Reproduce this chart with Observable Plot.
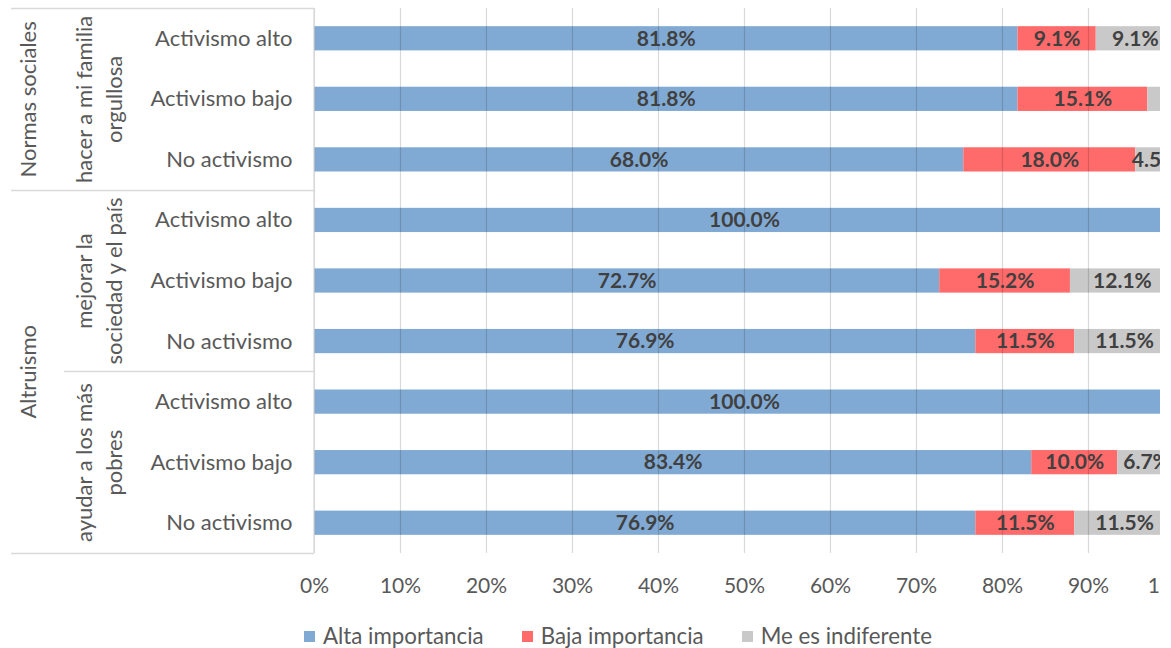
<!DOCTYPE html>
<html>
<head>
<meta charset="utf-8">
<script src="https://cdn.jsdelivr.net/npm/d3@7"></script>
<script src="https://cdn.jsdelivr.net/npm/@observablehq/plot@0.6"></script>
<style>
  html, body { margin: 0; padding: 0; background: #fff; }
  body { font-family: Lato, "Open Sans", sans-serif; }
  #wrap { position: relative; width: 1160px; height: 648px; overflow: hidden; }
  #chart svg { display: block; max-width: none !important; }
  #legend { position: absolute; left: 304px; top: 624px; display: flex; align-items: center; gap: 38px;
            font-size: 22.3px; color: #595959; line-height: 24px; white-space: nowrap; }
  .item { display: flex; align-items: center; gap: 8px; }
  .sw { width: 11px; height: 11px; display: inline-block; }
</style>
</head>
<body>
<div id="wrap">
  <div id="chart"></div>
  <div id="legend"></div>
</div>
<script>
// ---------- data ----------
const groups = ["Normas sociales", "Altruismo"];
const groupRows = [[0, 2], [3, 8]];               // first and last row of each group
const subgroups = ["hacer a mi familia\norgullosa", "mejorar la\nsociedad y el país", "ayudar a los más\npobres"];
const levels = ["Activismo alto", "Activismo bajo", "No activismo"];
const series = ["Alta importancia", "Baja importancia", "Me es indiferente"];
const seriesColors = ["#80AAD3", "#FF6A6A", "#C9C9C9"];

// bar lengths (%) per row, top to bottom
const alta  = [81.8, 81.8, 75.5, 100.0, 72.7, 76.9, 100.0, 83.4, 76.9];
const baja  = [ 9.1, 15.1, 20.0,   0.0, 15.2, 11.5,   0.0, 10.0, 11.5];
const indif = [ 9.1,  3.1,  4.5,   0.0, 12.1, 11.6,   0.0,  6.7, 11.6];
// data labels as printed on the chart
const altaLabels  = ["81.8%", "81.8%", "68.0%", "100.0%", "72.7%", "76.9%", "100.0%", "83.4%", "76.9%"];
const bajaLabels  = ["9.1%", "15.1%", "18.0%", "", "15.2%", "11.5%", "", "10.0%", "11.5%"];
const indifLabels = ["9.1%", "", "4.5%", "", "12.1%", "11.5%", "", "6.7%", "11.5%"];
const xTicks = [0, 10, 20, 30, 40, 50, 60, 70, 80, 90, 100];

// ---------- tables ----------
const valuesBySeries = [alta, baja, indif];
const labelsBySeries = [altaLabels, bajaLabels, indifLabels];
const rows = d3.range(alta.length).map(i => ({row: i, level: levels[i % 3]}));
const segments = [];
rows.forEach(({row}) => {
  let cum = 0;
  series.forEach((s, k) => {
    const v = valuesBySeries[k][row];
    segments.push({row, series: s, x1: cum, x2: cum + v, label: labelsBySeries[k][row]});
    cum += v;
  });
});
const subData = subgroups.map((t, i) => ({text: t, center: i * 3 + 1}));
const groupData = groups.map((t, i) => ({text: t, center: (groupRows[i][0] + groupRows[i][1]) / 2}));

// ---------- chart ----------
const chart = Plot.plot({
  width: 1180,
  height: 610,
  marginLeft: 314,
  marginRight: 6,
  marginTop: 8,
  marginBottom: 57,
  style: {fontFamily: "Lato, 'Open Sans', sans-serif", background: "#fff", overflow: "visible", maxWidth: "none"},
  x: {domain: [0, 100], axis: null},
  y: {domain: [rows.length - 0.5, -0.5], axis: null},
  color: {domain: series, range: seriesColors},
  marks: [
    Plot.rectX(segments.filter(d => d.x2 > d.x1), {
      x1: "x1", x2: "x2",
      y1: d => d.row - 0.2, y2: d => d.row + 0.2,
      fill: "series"
    }),
    Plot.gridX(xTicks, {stroke: "#000", strokeOpacity: 0.15, strokeWidth: 1.2}),
    Plot.text(segments.filter(d => d.label), {
      x: d => (d.x1 + d.x2) / 2, y: "row", text: "label",
      fill: "#404040", fontWeight: "bold", fontSize: 21
    }),
    Plot.axisX(xTicks, {
      tickFormat: d => d + "%", tickSize: 0, tickPadding: 25,
      fontSize: 21, fill: "#595959", label: null
    }),
    // category axis (three levels)
    Plot.text(rows, {
      y: "row", text: "level", frameAnchor: "left", textAnchor: "end", dx: -22,
      fontSize: 22, fill: "#595959"
    }),
    Plot.text(subData, {
      y: "center", text: "text", frameAnchor: "left", dx: -217, rotate: -90,
      textAnchor: "middle", lineAnchor: "middle", lineHeight: 1.36,
      fontSize: 22, fill: "#595959"
    }),
    Plot.text(groupData, {
      y: "center", text: "text", frameAnchor: "left", dx: -286, rotate: -90,
      textAnchor: "middle", lineAnchor: "middle",
      fontSize: 22, fill: "#595959"
    })
  ]
});
document.getElementById("chart").appendChild(chart);

// separator lines of the category axis (positions from the y scale)
const ys = chart.scale("y");
const svg = d3.select(chart);
const left = 314;
const sepLines = [
  {y: -0.5, from: 11},
  {y: 2.5, from: 11},
  {y: 5.5, from: 64},
  {y: rows.length - 0.5, from: 11}
];
const g = svg.append("g").attr("stroke", "#D9D9D9").attr("stroke-width", 1.3);
sepLines.forEach(s => {
  const yy = Math.round(ys.apply(s.y)) + 0.5;
  g.append("line").attr("x1", s.from).attr("x2", left).attr("y1", yy).attr("y2", yy);
});
g.append("line").attr("x1", left).attr("x2", left)
  .attr("y1", ys.apply(-0.5)).attr("y2", ys.apply(rows.length - 0.5));

// legend
const legend = d3.select("#legend");
series.forEach((s, i) => {
  const it = legend.append("div").attr("class", "item");
  it.append("span").attr("class", "sw").style("background", seriesColors[i]);
  it.append("span").text(s);
});
</script>
</body>
</html>
